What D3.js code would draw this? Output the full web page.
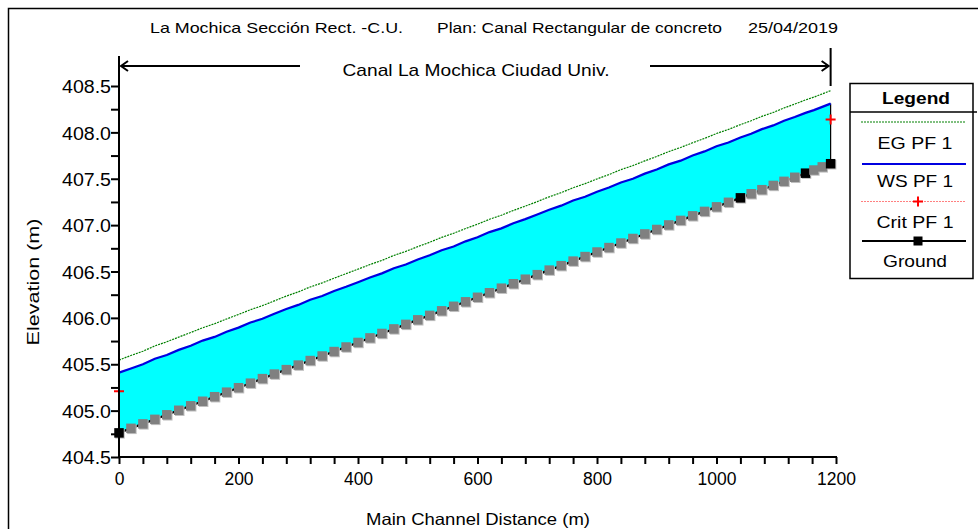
<!DOCTYPE html>
<html><head><meta charset="utf-8">
<script src="https://cdn.jsdelivr.net/npm/d3@7"></script>
<style>
body{margin:0;background:#fff;}
svg text{font-family:"Liberation Sans",Arial,sans-serif;}
</style></head>
<body><svg id="c" width="978" height="529"></svg>
<script>
const stations=[0,20,40,60,80,100,120,140,160,180,200,220,240,260,280,300,320,340,360,380,400,420,440,460,480,500,520,540,560,580,600,620,640,660,680,700,720,740,760,780,800,820,840,860,880,900,920,940,960,980,1000,1020,1040,1058,1076,1095,1113,1131,1149,1163,1177,1191];
const ground=[404.760,404.809,404.857,404.906,404.955,405.004,405.052,405.101,405.150,405.199,405.247,405.296,405.345,405.394,405.442,405.491,405.540,405.589,405.637,405.686,405.735,405.784,405.832,405.881,405.930,405.979,406.027,406.076,406.125,406.173,406.222,406.271,406.320,406.368,406.417,406.466,406.515,406.563,406.612,406.661,406.710,406.758,406.807,406.856,406.905,406.953,407.002,407.051,407.100,407.148,407.197,407.246,407.294,407.338,407.382,407.428,407.472,407.516,407.560,407.594,407.628,407.662];
const wsPF1=[405.410,405.455,405.500,405.560,405.600,405.655,405.700,405.755,405.795,405.850,405.895,405.950,405.990,406.045,406.095,406.140,406.195,406.235,406.290,406.335,406.385,406.435,406.480,406.535,406.575,406.630,406.675,406.730,406.770,406.825,406.870,406.925,406.965,407.020,407.065,407.115,407.165,407.210,407.265,407.305,407.360,407.405,407.460,407.500,407.555,407.600,407.655,407.695,407.750,407.795,407.850,407.890,407.945,407.985,408.035,408.075,408.125,408.165,408.210,408.240,408.275,408.310];
const egPF1=[405.545,405.595,405.640,405.698,405.742,405.793,405.842,405.893,405.937,405.988,406.037,406.088,406.132,406.183,406.235,406.280,406.333,406.377,406.428,406.477,406.525,406.575,406.620,406.673,406.717,406.768,406.815,406.868,406.912,406.963,407.010,407.063,407.107,407.158,407.205,407.253,407.305,407.350,407.403,407.447,407.498,407.545,407.598,407.642,407.693,407.740,407.793,407.837,407.888,407.935,407.988,408.032,408.083,408.125,408.173,408.215,408.263,408.305,408.350,408.380,408.415,408.450];
const realSections=[0,1040,1149,1191];
const critStations=[0,1191];
const critPF1=[405.21,408.14];
const xTicks=[0,200,400,600,800,1000,1200];
const yTicks=[404.5,405.0,405.5,406.0,406.5,407.0,407.5,408.0,408.5];
const legendItems=["EG PF 1","WS PF 1","Crit PF 1","Ground"];
const titleParts=["La Mochica Sección Rect. -C.U.","Plan: Canal  Rectangular de concreto","25/04/2019"];
const reachName="Canal La Mochica Ciudad Univ.";

const svg=d3.select("#c");
const x=d3.scaleLinear().domain([0,1200]).range([119,836]);
const y=d3.scaleLinear().domain([404.5,408.5]).range([457,86]);

// frame
svg.append("rect").attr("x",8.5).attr("y",8.5).attr("width",980).attr("height",530).attr("fill","none").attr("stroke","#000").attr("stroke-width",1.5);

// titles
const tp=[150,437,748], tl=[253,285,90];
titleParts.forEach((t,i)=>svg.append("text").attr("x",tp[i]).attr("y",33).attr("font-size",15)
  .attr("textLength",tl[i]).attr("lengthAdjust","spacingAndGlyphs").text(t));

const data=stations.map((s,i)=>({s,g:ground[i],w:wsPF1[i],e:egPF1[i]}));

// fill
svg.append("path").datum(data).attr("fill","#00ffff")
 .attr("d",d3.area().x(d=>x(d.s)).y0(d=>y(d.g)).y1(d=>y(d.w)));
const last=data[data.length-1];
svg.append("line").attr("x1",x(last.s)).attr("x2",x(last.s)).attr("y1",y(last.w)).attr("y2",y(last.g)).attr("stroke","#000").attr("stroke-width",1.2);

// EG
svg.append("path").datum(data).attr("fill","none").attr("stroke","#008000").attr("stroke-width",1.2).attr("stroke-dasharray","2,1")
 .attr("d",d3.line().x(d=>x(d.s)).y(d=>y(d.e)));
// WS
svg.append("path").datum(data).attr("fill","none").attr("stroke","#0000e0").attr("stroke-width",2.2)
 .attr("d",d3.line().x(d=>x(d.s)).y(d=>y(d.w)));
// ground line
svg.append("path").datum(data).attr("fill","none").attr("stroke","#000").attr("stroke-width",2.2)
 .attr("d",d3.line().x(d=>x(d.s)).y(d=>y(d.g)));
// markers
const ms=9.5;
data.forEach(d=>{
 const real=realSections.includes(d.s);
 svg.append("rect").attr("x",x(d.s)-ms/2+1).attr("y",y(d.g)-ms/2+1).attr("width",ms).attr("height",ms).attr("fill","#c0c0c0");
 svg.append("rect").attr("x",x(d.s)-ms/2).attr("y",y(d.g)-ms/2).attr("width",ms).attr("height",ms).attr("fill",real?"#000":"#808080");
});
// crit
critStations.forEach((s,i)=>{
 const cx=x(s),cy=y(critPF1[i]);
 svg.append("path").attr("d",`M${cx-5},${cy}H${cx+5}M${cx},${cy-5}V${cy+5}`).attr("stroke","#ff0000").attr("stroke-width",2);
});

// axes
const ya=d3.axisLeft(y).tickValues(d3.range(404.5,408.51,0.25)).tickSize(8).tickFormat(d=>yTicks.some(t=>Math.abs(t-d)<1e-6)?d3.format(".1f")(d):"");
const gy=svg.append("g").attr("transform","translate(119,0)").call(ya);
gy.select(".domain").remove();
gy.selectAll("line").attr("stroke","#000").attr("stroke-width",2);
gy.selectAll("text").attr("font-size",17.5).attr("fill","#000").attr("x",-8).attr("dy","0.38em").attr("font-family","Liberation Sans,Arial,sans-serif")
  .each(function(){ if(this.textContent) d3.select(this).attr("textLength",49).attr("lengthAdjust","spacingAndGlyphs"); });
svg.append("line").attr("x1",119).attr("x2",119).attr("y1",56).attr("y2",457).attr("stroke","#000").attr("stroke-width",2);

const xa=d3.axisBottom(x).tickValues(d3.range(0,1201,40)).tickSize(7).tickFormat(d=>xTicks.includes(d)?d:"");
const gx=svg.append("g").attr("transform","translate(0,457)").call(xa);
gx.select(".domain").remove();
gx.selectAll("line").attr("stroke","#000").attr("stroke-width",2);
gx.selectAll("text").attr("font-size",17.5).attr("fill","#000").attr("y",16).attr("dy","0.71em").attr("font-family","Liberation Sans,Arial,sans-serif");
svg.append("line").attr("x1",118).attr("x2",837).attr("y1",457).attr("y2",457).attr("stroke","#000").attr("stroke-width",2);

// axis titles
svg.append("text").attr("transform","translate(39,282) rotate(-90)").attr("text-anchor","middle").attr("font-size",16.5)
  .attr("textLength",127).attr("lengthAdjust","spacingAndGlyphs").text("Elevation  (m)");
svg.append("text").attr("x",478).attr("y",525).attr("text-anchor","middle").attr("font-size",16.5)
  .attr("textLength",224).attr("lengthAdjust","spacingAndGlyphs").text("Main Channel Distance (m)");

// reach annotation
const xr=x(last.s);
svg.append("line").attr("x1",xr).attr("x2",xr).attr("y1",48).attr("y2",86).attr("stroke","#000").attr("stroke-width",2);
svg.append("line").attr("x1",121).attr("x2",300).attr("y1",66).attr("y2",66).attr("stroke","#000").attr("stroke-width",2);
svg.append("line").attr("x1",650).attr("x2",xr-2).attr("y1",66).attr("y2",66).attr("stroke","#000").attr("stroke-width",2);
svg.append("path").attr("d","M128,61L121,66L128,71").attr("fill","none").attr("stroke","#000").attr("stroke-width",2);
svg.append("path").attr("d",`M${xr-9},61L${xr-2},66L${xr-9},71`).attr("fill","none").attr("stroke","#000").attr("stroke-width",2);
svg.append("text").attr("x",476).attr("y",76).attr("text-anchor","middle").attr("font-size",17)
  .attr("textLength",267).attr("lengthAdjust","spacingAndGlyphs").text(reachName);

// legend
const lg=svg.append("g");
lg.append("rect").attr("x",850).attr("y",83.5).attr("width",123).attr("height",195).attr("fill","#fff").attr("stroke","#000").attr("stroke-width",1.5);
lg.append("line").attr("x1",850).attr("x2",977).attr("y1",112).attr("y2",112).attr("stroke","#000").attr("stroke-width",1.5);
lg.append("text").attr("x",916).attr("y",104).attr("text-anchor","middle").attr("font-size",16.5).attr("font-weight","bold")
  .attr("textLength",68).attr("lengthAdjust","spacingAndGlyphs").text("Legend");
const lineY=[122,164,201.5,241];
const textY=[149,187,228,267];
const textL=[75,76,77,64];
lg.append("line").attr("x1",861).attr("x2",965).attr("y1",lineY[0]).attr("y2",lineY[0]).attr("stroke","#008000").attr("stroke-width",1.2).attr("stroke-dasharray","2,1");
lg.append("line").attr("x1",862).attr("x2",966).attr("y1",lineY[1]).attr("y2",lineY[1]).attr("stroke","#0000e0").attr("stroke-width",2.2);
lg.append("line").attr("x1",861).attr("x2",965).attr("y1",lineY[2]).attr("y2",lineY[2]).attr("stroke","#ff8080").attr("stroke-width",1).attr("stroke-dasharray","2,1");
lg.append("path").attr("d",`M913,${lineY[2]}H923M918,${lineY[2]-5}V${lineY[2]+5}`).attr("stroke","#ff0000").attr("stroke-width",2);
lg.append("line").attr("x1",862).attr("x2",966).attr("y1",lineY[3]).attr("y2",lineY[3]).attr("stroke","#000").attr("stroke-width",2);
lg.append("rect").attr("x",913.5).attr("y",lineY[3]-4.5).attr("width",9).attr("height",9).attr("fill","#000");
legendItems.forEach((t,i)=>lg.append("text").attr("x",915).attr("y",textY[i]).attr("text-anchor","middle").attr("font-size",17)
  .attr("textLength",textL[i]).attr("lengthAdjust","spacingAndGlyphs").text(t));
</script></body></html>
